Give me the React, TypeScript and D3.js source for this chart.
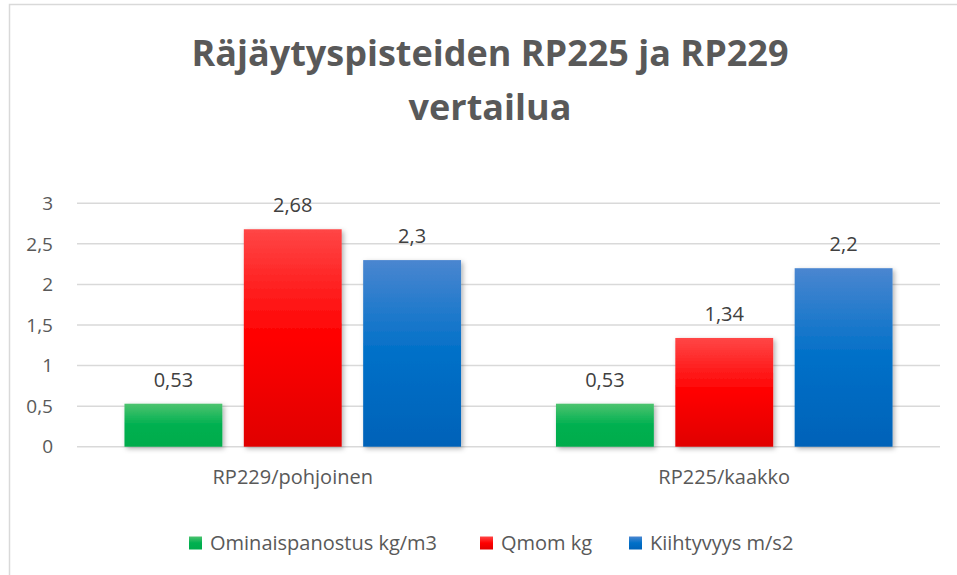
import React, { useEffect, useRef } from 'react';
import * as d3 from 'd3';

const categories = ['RP229/pohjoinen', 'RP225/kaakko'];
const seriesNames = ['Ominaispanostus kg/m3', 'Qmom kg', 'Kiihtyvyys m/s2'];
const ominaispanostus = [0.53, 0.53];
const qmom = [2.68, 1.34];
const kiihtyvyys = [2.3, 2.2];
const yTicks = [0, 0.5, 1, 1.5, 2, 2.5, 3];
const titleLines = ['Räjäytyspisteiden RP225 ja RP229', 'vertailua'];

export default function App() {
  const ref = useRef<SVGSVGElement>(null);

  useEffect(() => {
    const svg = d3.select(ref.current);
    svg.selectAll('*').remove();

    const font = '"Open Sans", Calibri, sans-serif';
    const textColor = '#595959';

    const defs = svg.append('defs');
    // gradients for the three series
    const grads = [
      ['#4cc36f', '#00b050', '#00ac4c'],
      ['#ff4646', '#ff0000', '#e00000'],
      ['#4a86d0', '#0070c8', '#0062b8'],
    ];
    grads.forEach((stops, i) => {
      const g = defs.append('linearGradient')
        .attr('id', 'grad' + i)
        .attr('x1', 0).attr('y1', 0).attr('x2', 0).attr('y2', 1);
      g.append('stop').attr('offset', '0%').attr('stop-color', stops[0]);
      g.append('stop').attr('offset', '50%').attr('stop-color', stops[1]);
      g.append('stop').attr('offset', '100%').attr('stop-color', stops[2]);
    });
    const shadow = defs.append('filter').attr('id', 'shadow')
      .attr('x', '-20%').attr('y', '-20%').attr('width', '140%').attr('height', '140%');
    shadow.append('feDropShadow')
      .attr('dx', 2).attr('dy', 2).attr('stdDeviation', 2.5)
      .attr('flood-color', '#000').attr('flood-opacity', 0.3);

    // chart border (cut off at right and bottom)
    svg.append('rect')
      .attr('x', 9.5).attr('y', 4.5)
      .attr('width', 980).attr('height', 600)
      .attr('fill', '#fff')
      .attr('stroke', '#d9d9d9')
      .attr('stroke-width', 1.5);

    // title
    svg.append('g')
      .selectAll('text')
      .data(titleLines)
      .enter()
      .append('text')
      .attr('x', 490)
      .attr('y', (d, i) => 66 + i * 54)
      .attr('text-anchor', 'middle')
      .style('font-family', font)
      .style('font-weight', 700)
      .style('font-size', '36px')
      .style('fill', textColor)
      .text(d => d);

    const plot = { left: 77, right: 940, top: 203.3, bottom: 446.7 };

    const y = d3.scaleLinear().domain([0, 3]).range([plot.bottom, plot.top]);
    const x0 = d3.scaleBand().domain(categories).range([plot.left, plot.right]).paddingInner(0.22).paddingOuter(0.11);
    const x1 = d3.scaleBand().domain(seriesNames).range([0, x0.bandwidth()]).paddingInner(0.18);

    // gridlines
    svg.append('g')
      .selectAll('line')
      .data(yTicks)
      .enter()
      .append('line')
      .attr('x1', plot.left).attr('x2', plot.right)
      .attr('y1', d => y(d)).attr('y2', d => y(d))
      .attr('stroke', '#d9d9d9')
      .attr('stroke-width', 1.5);

    const fmt = (v: number) => String(v).replace('.', ',');

    // y tick labels
    svg.append('g')
      .selectAll('text')
      .data(yTicks)
      .enter()
      .append('text')
      .attr('x', 53)
      .attr('y', d => y(d))
      .attr('dy', '0.35em')
      .attr('text-anchor', 'end')
      .style('font-family', font)
      .style('font-size', '19px')
      .style('fill', textColor)
      .text(d => fmt(d));

    const series = [ominaispanostus, qmom, kiihtyvyys];
    const rows = categories.map((c, ci) => ({
      cat: c,
      vals: seriesNames.map((s, si) => ({ s, si, v: series[si][ci] })),
    }));

    const groups = svg.append('g')
      .selectAll('g')
      .data(rows)
      .enter()
      .append('g')
      .attr('transform', d => 'translate(' + x0(d.cat) + ',0)');

    groups.selectAll('rect')
      .data(d => d.vals)
      .enter()
      .append('rect')
      .attr('x', d => x1(d.s)!)
      .attr('width', x1.bandwidth())
      .attr('y', d => y(d.v))
      .attr('height', d => y(0) - y(d.v))
      .attr('fill', d => 'url(#grad' + d.si + ')')
      .attr('filter', 'url(#shadow)');

    groups.selectAll('text')
      .data(d => d.vals)
      .enter()
      .append('text')
      .attr('x', d => x1(d.s)! + x1.bandwidth() / 2)
      .attr('y', d => y(d.v) - 17)
      .attr('text-anchor', 'middle')
      .style('font-family', font)
      .style('font-size', '20px')
      .style('fill', '#404040')
      .text(d => fmt(d.v));

    // category labels
    svg.append('g')
      .selectAll('text')
      .data(categories)
      .enter()
      .append('text')
      .attr('x', d => x0(d)! + x0.bandwidth() / 2)
      .attr('y', 484)
      .attr('text-anchor', 'middle')
      .style('font-family', font)
      .style('font-size', '20px')
      .style('fill', textColor)
      .text(d => d);

    // legend
    const legendX = [189, 480, 629];
    const legend = svg.append('g')
      .selectAll('g')
      .data(seriesNames)
      .enter()
      .append('g')
      .attr('transform', (d, i) => 'translate(' + legendX[i] + ',543)');
    legend.append('rect')
      .attr('x', 0).attr('y', -6.5)
      .attr('width', 13).attr('height', 13)
      .attr('fill', (d, i) => 'url(#grad' + i + ')');
    legend.append('text')
      .attr('x', 21)
      .attr('dy', '0.35em')
      .style('font-family', font)
      .style('font-size', '20px')
      .style('fill', textColor)
      .text(d => d);
  }, []);

  return (
    <svg ref={ref} width={957} height={575} style={{ position: 'absolute', left: 0, top: 0 }} />
  );
}
